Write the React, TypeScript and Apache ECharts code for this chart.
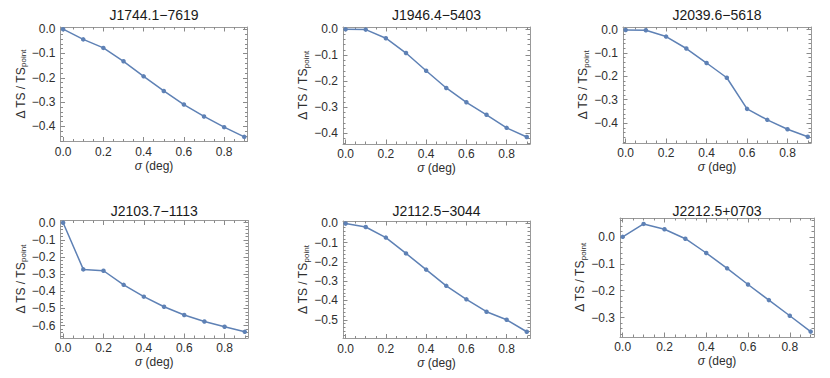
import React, { useEffect, useRef } from 'react';
import * as echarts from 'echarts';

// ---------- data ----------
const sigma = [0, 0.1, 0.2, 0.3, 0.4, 0.5, 0.6, 0.7, 0.8, 0.9];

const titles = ['J1744.1−7619', 'J1946.4−5403', 'J2039.6−5618', 'J2103.7−1113', 'J2112.5−3044', 'J2212.5+0703'];

const j1744 = [0, -0.042, -0.077, -0.132, -0.194, -0.254, -0.31, -0.359, -0.403, -0.443];
const j1946 = [-0.001, -0.002, -0.035, -0.092, -0.16, -0.226, -0.281, -0.329, -0.379, -0.414];
const j2039 = [-0.002, -0.003, -0.03, -0.081, -0.143, -0.206, -0.339, -0.386, -0.426, -0.458];
const j2103 = [0, -0.272, -0.28, -0.362, -0.431, -0.49, -0.538, -0.576, -0.606, -0.636];
const j2112 = [-0.001, -0.019, -0.074, -0.156, -0.24, -0.324, -0.394, -0.458, -0.5, -0.562];
const j2212 = [0, 0.048, 0.028, -0.007, -0.06, -0.117, -0.177, -0.235, -0.293, -0.352];

const seriesValues = [j1744, j1946, j2039, j2103, j2112, j2212];

const xTickLabels = [0, 0.2, 0.4, 0.6, 0.8];
const yTicks1744 = [0, -0.1, -0.2, -0.3, -0.4];
const yTicks1946 = [0, -0.1, -0.2, -0.3, -0.4];
const yTicks2039 = [0, -0.1, -0.2, -0.3, -0.4];
const yTicks2103 = [0, -0.1, -0.2, -0.3, -0.4, -0.5, -0.6];
const yTicks2112 = [0, -0.1, -0.2, -0.3, -0.4, -0.5];
const yTicks2212 = [0, -0.1, -0.2, -0.3];
const yTickLabels = [yTicks1744, yTicks1946, yTicks2039, yTicks2103, yTicks2112, yTicks2212];

const xRange = [-0.013, 0.916];
const yRangeMin = [-0.462, -0.441, -0.485, -0.672, -0.597, -0.372];
const yRangeMax = [0.009, 0.008, 0.011, 0.013, 0.012, 0.07];

// ---------- layout ----------
const panelBoxes = [
  { left: 60.5, top: 27, right: 247.5, bottom: 141.5, titleY: 8 },
  { left: 343, top: 27, right: 530, bottom: 144, titleY: 8 },
  { left: 623, top: 27, right: 811, bottom: 143, titleY: 8 },
  { left: 60.5, top: 220.5, right: 248, bottom: 338, titleY: 204 },
  { left: 343, top: 221, right: 530, bottom: 338.5, titleY: 204 },
  { left: 620, top: 218, right: 814, bottom: 337, titleY: 204 },
];

const FONT = '"Liberation Sans", Arial, sans-serif';
const FRAME = '#999999';
const TICK = '#8a8a8a';
const LABEL = '#2e2e2e';
const LINE = '#5E81B5';

function fmt(v: number) {
  const r = Math.round(v * 10) / 10;
  if (Math.abs(r) < 1e-9) return '0.0';
  return (r < 0 ? '−' : '') + Math.abs(r).toFixed(1);
}

function minorTicks(min: number, max: number, step: number, every: number) {
  const out: number[] = [];
  const k0 = Math.ceil(min / step);
  const k1 = Math.floor(max / step);
  for (let k = k0; k <= k1; k++) {
    if (k % every === 0) continue;
    out.push(Math.round(k * step * 1000) / 1000);
  }
  return out;
}

function buildOption() {
  const grid: any[] = [];
  const xAxis: any[] = [];
  const yAxis: any[] = [];
  const series: any[] = [];
  const title: any[] = [];
  const xMinor = minorTicks(xRange[0], xRange[1], 0.05, 4);

  panelBoxes.forEach((p, i) => {
    grid.push({ left: p.left, top: p.top, width: p.right - p.left, height: p.bottom - p.top });
    title.push({
      text: titles[i],
      left: (p.left + p.right) / 2,
      top: p.titleY,
      textAlign: 'center',
      padding: 0,
      textStyle: { fontSize: 14, fontWeight: 'normal', color: '#1a1a1a', fontFamily: FONT },
    });
    const baseX = {
      type: 'value', gridIndex: i, min: xRange[0], max: xRange[1],
      splitLine: { show: false },
      axisLine: { show: true, onZero: false, lineStyle: { color: FRAME, width: 1 } },
    };
    const minorX = {
      ...baseX,
      axisLine: { show: false, onZero: false },
      axisTick: { show: true, inside: true, length: 2.5, customValues: xMinor, lineStyle: { color: TICK } },
      axisLabel: { show: false },
    };
    const xi = xAxis.length;
    // order matters: ECharts flips a repeated position to the other side
    xAxis.push({
      ...baseX, position: 'bottom',
      axisTick: { show: true, inside: true, length: 4.5, customValues: xTickLabels, lineStyle: { color: TICK } },
      axisLabel: { show: true, customValues: xTickLabels, formatter: fmt, margin: 4, color: LABEL, fontSize: 12, fontFamily: FONT },
      name: '{i|σ} (deg)', nameLocation: 'middle', nameGap: 18,
      nameTextStyle: {
        color: LABEL, fontSize: 12, fontFamily: FONT,
        rich: { i: { fontStyle: 'italic', fontSize: 12, color: LABEL, fontFamily: FONT } },
      },
    });
    xAxis.push({
      ...baseX, position: 'top',
      axisTick: { show: true, inside: true, length: 4.5, customValues: xTickLabels, lineStyle: { color: TICK } },
      axisLabel: { show: false },
    });
    xAxis.push({ ...minorX, position: 'bottom' }); // ends up on top
    xAxis.push({ ...minorX, position: 'top' }); // ends up at bottom

    const yMin = yRangeMin[i];
    const yMax = yRangeMax[i];
    const yMinor = minorTicks(yMin, yMax, 0.02, 5);
    const baseY = {
      type: 'value', gridIndex: i, min: yMin, max: yMax,
      splitLine: { show: false },
      axisLine: { show: true, onZero: false, lineStyle: { color: FRAME, width: 1 } },
    };
    const minorY = {
      ...baseY,
      axisLine: { show: false, onZero: false },
      axisTick: { show: true, inside: true, length: 2.5, customValues: yMinor, lineStyle: { color: TICK } },
      axisLabel: { show: false },
    };
    const yi = yAxis.length;
    yAxis.push({
      ...baseY, position: 'left',
      axisTick: { show: true, inside: true, length: 4.5, customValues: yTickLabels[i], lineStyle: { color: TICK } },
      axisLabel: { show: true, customValues: yTickLabels[i], formatter: fmt, margin: 5, color: LABEL, fontSize: 12, fontFamily: FONT },
      name: '{m|Δ TS / TS}{s|point}', nameLocation: 'middle', nameRotate: 90, nameGap: 26,
      nameTextStyle: {
        color: LABEL, fontSize: 12, fontFamily: FONT,
        rich: {
          m: { fontSize: 12, color: LABEL, fontFamily: FONT, verticalAlign: 'middle', lineHeight: 14 },
          s: { fontSize: 8, color: LABEL, fontFamily: FONT, verticalAlign: 'bottom', padding: [7, 0, 0, 0], lineHeight: 9 },
        },
      },
    });
    yAxis.push({
      ...baseY, position: 'right',
      axisTick: { show: true, inside: true, length: 4.5, customValues: yTickLabels[i], lineStyle: { color: TICK } },
      axisLabel: { show: false },
    });
    yAxis.push({ ...minorY, position: 'left' }); // ends up right
    yAxis.push({ ...minorY, position: 'right' }); // ends up left

    series.push({
      type: 'line',
      xAxisIndex: xi,
      yAxisIndex: yi,
      data: sigma.map((s, k) => [s, seriesValues[i][k]]),
      symbol: 'circle',
      symbolSize: 4.5,
      lineStyle: { color: LINE, width: 1.5 },
      itemStyle: { color: LINE },
      clip: false,
    });
  });

  return { animation: false, backgroundColor: '#ffffff', title, grid, xAxis, yAxis, series };
}

export default function App() {
  const ref = useRef<HTMLDivElement>(null);
  useEffect(() => {
    if (!ref.current) return;
    const chart = echarts.init(ref.current, undefined, { renderer: 'svg' });
    chart.setOption(buildOption() as any);
    return () => chart.dispose();
  }, []);
  return <div ref={ref} style={{ position: 'absolute', left: 0, top: 0, width: 830, height: 378 }} />;
}
